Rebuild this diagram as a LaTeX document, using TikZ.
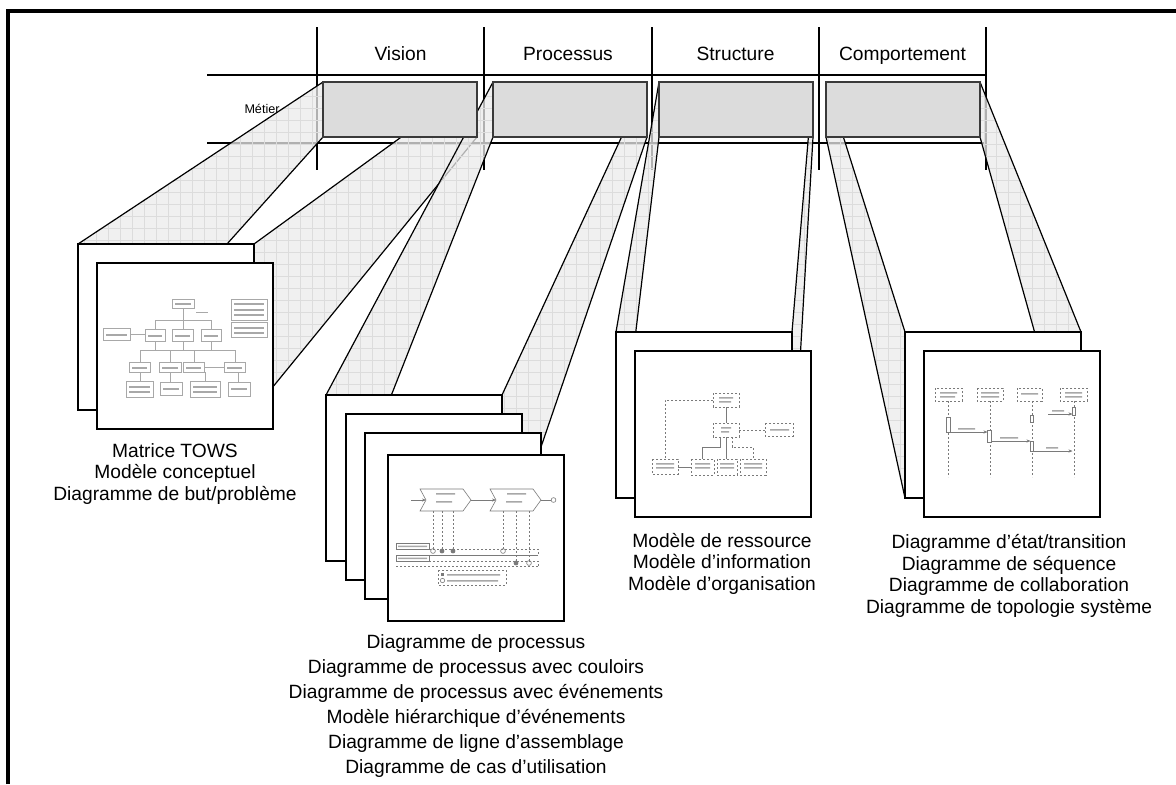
\documentclass[tikz,border=0pt]{standalone}
\usepackage{fontspec}
\setmainfont{Liberation Sans}
\usetikzlibrary{arrows.meta}
\pgfdeclarelayer{tbl}
\pgfdeclarelayer{beam}
\pgfsetlayers{tbl,beam,main}
\definecolor{cellgray}{HTML}{DCDCDC}
\definecolor{beamgray}{HTML}{EBEBEB}
\definecolor{gridgray}{HTML}{DCDCDC}
\definecolor{edgegray}{HTML}{3A3A3A}
\definecolor{thumb}{HTML}{7A7A7A}
\definecolor{thumblight}{HTML}{A8A8A8}
\begin{document}
\begin{tikzpicture}[x=0.5pt,y=-0.5pt,
  cell/.style={draw=edgegray, line width=1pt, fill=cellgray, minimum width=77pt, minimum height=27.5pt, inner sep=0pt, outer sep=0pt, anchor=north west},
  page/.style={draw=black, line width=0.7pt, fill=white, minimum width=88pt, minimum height=83pt, inner sep=0pt, outer sep=0pt, anchor=north west},
  tline/.style={line width=0.9pt},
  ray/.style={line width=0.6pt},
  hdr/.style={font=\fontsize{9.6}{11}\selectfont, inner sep=0pt, anchor=base},
  lbl/.style={font=\fontsize{9.6}{10.75}\selectfont, align=center, inner sep=0pt, anchor=base},
  th/.style={draw=thumb, line width=0.3pt},
  thl/.style={draw=thumblight, line width=0.35pt},
  thd/.style={draw=thumb, line width=0.3pt, dash pattern=on 1.2pt off 0.8pt},
  bar/.style={fill=thumblight},
]
\useasboundingbox (0,0) rectangle (1176,784);

% ---------- table ----------
\begin{pgfonlayer}{tbl}
\foreach \x in {317,484,652,819,986} \draw[tline] (\x,27) -- (\x,170);
\draw[tline] (207,75) -- (986,75) (207,143) -- (986,143);
\node[hdr] (hv) at (400.5,60) {Vision};
\node[hdr] (hp) at (568,60) {Processus};
\node[hdr] (hs) at (735.5,60) {Structure};
\node[hdr] (hc) at (902.5,60) {Comportement};
\node[font=\fontsize{6.3}{7}\selectfont, inner sep=0pt, anchor=base] (met) at (262,113) {Métier};
\end{pgfonlayer}

% ---------- cells ----------
\node[cell] (r1) at (323,82) {};
\node[cell] (r2) at (493,82) {};
\node[cell] (r3) at (659,82) {};
\node[cell] (r4) at (826,82) {};

% ---------- pages ----------
\node[page] (p1a) at (78,244) {};
\node[page] (p1b) at (97,263) {};
\node[page] (p2a) at (326,395) {};
\node[page] (p2b) at (346,414) {};
\node[page] (p2c) at (365,433) {};
\node[page] (p2d) at (388,455) {};
\node[page] (p3a) at (616,332) {};
\node[page] (p3b) at (635,351) {};
\node[page] (p4a) at (905,332) {};
\node[page] (p4b) at (924,351) {};

% ---------- beams: left and right side faces ----------
\begin{pgfonlayer}{beam}
\foreach \r/\p in {r1/p1a, r2/p2a, r3/p3a, r4/p4a} {
  \begin{scope}
  \clip (\r.north west) -- (\r.south west) -- (\p.south west) -- (\p.north west) -- cycle
        (\r.north east) -- (\r.south east) -- (\p.south east) -- (\p.north east) -- cycle;
  \fill[beamgray, fill opacity=0.75] (0,0) rectangle (1176,784);
  \draw[gridgray, line width=0.3pt] (0,784) grid[step=6pt] (1176,0);
  \end{scope}
  \draw[ray] (\r.north west) -- (\p.north west) (\r.north east) -- (\p.north east)
    (\r.south west) -- (\p.south west) (\r.south east) -- (\p.south east);
}
\end{pgfonlayer}

% ---------- thumbnail: vision (hierarchy) ----------
\draw[thl] (172,299) rectangle (194,308);
\draw[thl] (231,299) rectangle (267,320);
\draw[thl] (231,322) rectangle (267,337);
\draw[thl] (196,312) -- (208,312);
\draw[thl] (103,328) rectangle (130,340);
\draw[thl] (145,329) rectangle (165,341);
\draw[thl] (172,329) rectangle (193,341);
\draw[thl] (201,329) rectangle (221,341);
\draw[thl] (183,308) -- (183,320) (155,320) -- (211,320) (155,320) -- (155,329) (183,320) -- (183,329) (211,320) -- (211,329) (130,334) -- (145,334);
\draw[thl] (140,350) -- (235,350) (140,350) -- (140,362) (170,350) -- (170,362) (194,350) -- (194,362) (235,350) -- (235,362)
  (155,341) -- (155,350) (183,341) -- (183,350) (211,341) -- (211,350) (204,367) -- (224,367);
\draw[thl] (129,362) rectangle (150,372) (159,362) rectangle (181,372) (183,362) rectangle (204,372) (224,362) rectangle (245,372);
\draw[thl] (126,381) rectangle (153,397) (160,382) rectangle (182,395) (190,381) rectangle (220,397) (228,382) rectangle (250,396);
\draw[thl] (140,372) -- (140,381) (170,372) -- (170,382) (205,372) -- (205,381) (238,372) -- (238,382);
\foreach \a/\b/\y in {175/191/303, 234/264/303, 234/264/309, 234/264/314, 234/264/327, 234/264/332, 106/127/334, 148/162/335, 175/190/335, 204/218/335,
  132/147/367, 162/178/367, 186/201/367, 227/242/367, 129/150/386, 129/150/391, 163/179/388, 193/217/386, 193/217/391, 231/247/388}
  \fill[bar] (\a,\y) rectangle (\b,\y+1.6);

% ---------- thumbnail: processus ----------
\draw[th] (420,489) -- (463,489) -- (471,500) -- (463,511) -- (420,511) -- (426,500) -- cycle;
\draw[th] (490,489) -- (533,489) -- (541,500) -- (533,511) -- (490,511) -- (496,500) -- cycle;
\draw[th, -{Stealth[length=2pt,width=1.6pt]}] (411,500) -- (426,500);
\draw[th, -{Stealth[length=2pt,width=1.6pt]}] (471,500) -- (496,500);
\draw[th] (541,500) -- (551,500);
\draw[th] (553.5,500) circle[radius=1.2pt];
\fill[bar] (436,493) rectangle (455,494.5) (436,501) rectangle (452,502.5) (507,493) rectangle (526,494.5) (506,501) rectangle (522,502.5);
\draw[thd] (433,511) -- (433,549) (442,511) -- (442,549) (453,511) -- (453,549);
\draw[thd] (503,511) -- (503,549) (516,511) -- (516,561) (529,511) -- (529,561);
\draw[th] (433,551) circle[radius=1.2pt] (503,551) circle[radius=1.2pt] (529,563) circle[radius=1.2pt];
\fill[thumb] (442,551) circle[radius=1.2pt] (453,551) circle[radius=1.2pt] (516,563) circle[radius=1.2pt];
\draw[th] (396,543) rectangle (429,549);
\draw[thd] (429,549) -- (538,549) -- (538,555);
\draw[th] (396,555) -- (538,555);
\draw[th] (396,555) rectangle (429,561);
\draw[thd] (429,561) -- (538,561) -- (538,566) (396,566) -- (538,566);
\fill[bar] (398,545.5) rectangle (427,547) (398,557.5) rectangle (427,559);
\draw[thd] (438,570) rectangle (506,585);
\fill[thumb] (441,573) rectangle (444,576);
\draw[th] (442.5,580.5) circle[radius=1.1pt];
\fill[bar] (447,574) rectangle (500,575.5) (447,580) rectangle (498,581.5);

% ---------- thumbnail: structure ----------
\draw[thd] (713,393) rectangle (739,407);
\draw[thd] (713,423) rectangle (739,437);
\draw[thd] (765,423) rectangle (793,436);
\draw[thd] (713,400) -- (665,400) -- (665,459);
\draw[th] (726,407) -- (726,423);
\draw[thd] (739,430) -- (765,430);
\draw[th] (720,437) -- (720,447) -- (702,447) -- (702,459);
\draw[th] (726,437) -- (726,459);
\draw[thd] (732,437) -- (732,447) -- (753,447) -- (753,459);
\draw[thd] (652,459) rectangle (678,474);
\draw[thd] (691,459) rectangle (714,475);
\draw[thd] (717,459) rectangle (737,475);
\draw[thd] (740,459) rectangle (766,475);
\draw[th] (678,467) -- (691,467);
\fill[bar] (719,397) rectangle (733,398.5) (719,401) rectangle (731,402.5) (721,427) rectangle (731,428.5) (721,431) rectangle (729,432.5)
  (770,429) rectangle (789,430.5) (656,463) rectangle (674,464.5) (656,467) rectangle (674,468.5) (695,463) rectangle (710,464.5) (695,467) rectangle (710,468.5)
  (720,463) rectangle (734,464.5) (720,467) rectangle (734,468.5) (744,463) rectangle (762,464.5) (744,467) rectangle (762,468.5);

% ---------- thumbnail: comportement (sequence) ----------
\draw[thd] (935,388) rectangle (962,401);
\draw[thd] (977,388) rectangle (1003,401);
\draw[thd] (1017,388) rectangle (1042,401);
\draw[thd] (1060,388) rectangle (1087,401);
\fill[bar] (940,392) rectangle (957,393.5) (940,396) rectangle (955,397.5) (981,392) rectangle (999,393.5) (981,396) rectangle (999,397.5)
  (1021,393) rectangle (1038,394.5) (1065,392) rectangle (1082,393.5) (1065,396) rectangle (1082,397.5);
\draw[thd] (948,401) -- (948,477) (990,401) -- (990,477) (1032,401) -- (1032,477) (1074,401) -- (1074,477);
\draw[th, fill=white] (946.5,417) rectangle (950,432);
\draw[th, fill=white] (987.5,430) rectangle (991,442);
\draw[th, fill=white] (1030.5,415) rectangle (1033.5,422);
\draw[th, fill=white] (1030.5,441) rectangle (1033.5,451);
\draw[th, fill=white] (1072.5,407) rectangle (1075.5,415);
\draw[th, -{Stealth[length=2pt,width=1.6pt]}] (950,432) -- (987.5,432);
\draw[th, -{Stealth[length=2pt,width=1.6pt]}] (991,441) -- (1030.5,441);
\draw[th, -{Stealth[length=2pt,width=1.6pt]}] (1033.5,451) -- (1072.5,451);
\draw[th, -{Stealth[length=2pt,width=1.6pt]}] (1048,414) -- (1072.5,414);
\fill[bar] (958,428) rectangle (975,429.5) (1000,437) rectangle (1018,438.5) (1046,447) rectangle (1058,448.5) (1052,410) rectangle (1064,411.5);

% ---------- labels (anchor = baseline of last line) ----------
\node[lbl] (l1) at (175,500) {Matrice TOWS\\Modèle conceptuel\\Diagramme de but/problème};
\node[lbl, font=\fontsize{9.6}{12.5}\selectfont] (l2) at (476,773) {Diagramme de processus\\Diagramme de processus avec couloirs\\Diagramme de processus avec événements\\Modèle hiérarchique d’événements\\Diagramme de ligne d’assemblage\\Diagramme de cas d’utilisation};
\node[lbl] (l3) at (722,590) {Modèle de ressource\\Modèle d’information\\Modèle d’organisation};
\node[lbl] (l4) at (1009,613) {Diagramme d’état/transition\\Diagramme de séquence\\Diagramme de collaboration\\Diagramme de topologie système};

% ---------- frame ----------
\draw[line width=1.7pt] (8,784) -- (8,11) -- (1176,11);
\end{tikzpicture}
\end{document}
